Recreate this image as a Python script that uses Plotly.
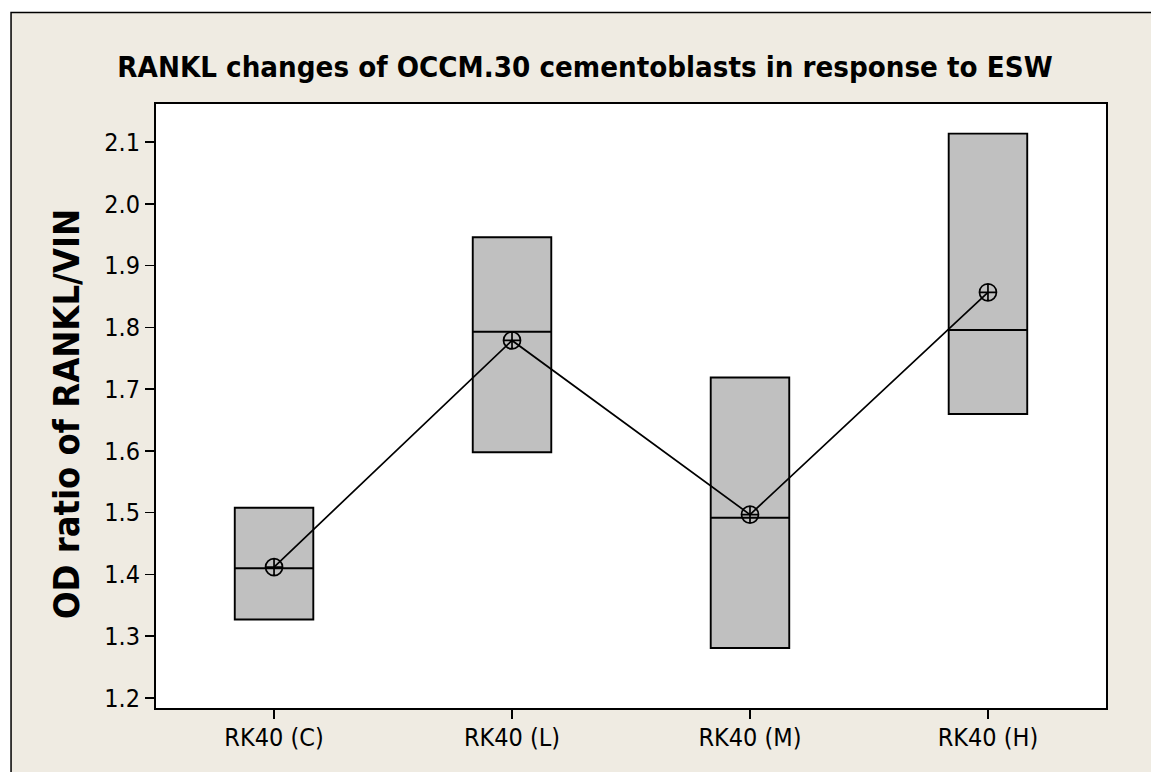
import plotly.graph_objects as go

categories = ["RK40 (C)", "RK40 (L)", "RK40 (M)", "RK40 (H)"]
q1_vals = [1.327, 1.598, 1.281, 1.660]
median_vals = [1.410, 1.793, 1.492, 1.796]
q3_vals = [1.508, 1.946, 1.719, 2.114]
mean_vals = [1.412, 1.779, 1.497, 1.857]
y_ticks = [1.2, 1.3, 1.4, 1.5, 1.6, 1.7, 1.8, 1.9, 2.0, 2.1]
y_tick_text = ["1.2", "1.3", "1.4", "1.5", "1.6", "1.7", "1.8", "1.9", "2.0", "2.1"]

FONT = "DejaVu Sans Condensed, DejaVu Sans"
W, H = 1151, 772
L, T = 155.7, 104.3
R = W - 1106
B = H - 708.3
pw, ph = W - L - R, H - T - B

def px_to_paper_x(px):
    return (px - L) / pw

def px_to_paper_y(py):
    return (H - B - py) / ph

fig = go.Figure()
fig.add_trace(go.Box(
    x=categories,
    q1=q1_vals, median=median_vals, q3=q3_vals,
    lowerfence=q1_vals, upperfence=q3_vals,
    fillcolor="#C0C0C0",
    line=dict(color="black", width=1.9),
    width=0.33, whiskerwidth=0,
    boxpoints=False, showlegend=False, hoverinfo="skip",
))
fig.add_trace(go.Scatter(
    x=categories, y=mean_vals, mode="lines+markers",
    line=dict(color="black", width=1.7),
    marker=dict(symbol="circle-cross-open", size=17, color="black",
                line=dict(color="black", width=1.7)),
    showlegend=False, hoverinfo="skip",
))

fig.add_shape(type="rect", xref="paper", yref="paper", layer="below",
              x0=px_to_paper_x(10.7), x1=1.3, y0=-0.3, y1=px_to_paper_y(12.7),
              fillcolor="#EFEBE2", line=dict(color="black", width=1.5))
fig.add_shape(type="rect", xref="paper", yref="paper", layer="below",
              x0=0, x1=1, y0=0, y1=1,
              fillcolor="white", line=dict(width=0))

fig.add_annotation(text="<b>OD ratio of RANKL/VIN</b>", textangle=-90,
                   xref="paper", yref="paper",
                   x=px_to_paper_x(66), y=px_to_paper_y(414),
                   xanchor="center", yanchor="middle", showarrow=False,
                   font=dict(family=FONT, size=36, color="black"))

fig.update_layout(
    width=W, height=H,
    margin=dict(l=L, r=R, t=T, b=B, autoexpand=False),
    paper_bgcolor="white", plot_bgcolor="white",
    title=dict(text="<b>RANKL changes of OCCM.30 cementoblasts in response to ESW</b>",
               x=585 / W, xref="container", xanchor="center",
               y=1 - 67 / H, yref="container", yanchor="middle",
               font=dict(family=FONT, size=29.2, color="black")),
    font=dict(family=FONT, color="black"),
    showlegend=False,
    hovermode=False,
)
fig.update_xaxes(range=[-0.496, 3.496], showline=True, linecolor="black", linewidth=2,
                 mirror=True, ticks="outside", ticklen=9, tickwidth=1.5, tickcolor="black",
                 showgrid=False, zeroline=False, ticklabelstandoff=-3,
                 tickfont=dict(size=25, family=FONT))
fig.update_yaxes(range=[1.1838, 2.1619], tickvals=y_ticks, ticktext=y_tick_text,
                 showline=True, linecolor="black", linewidth=2,
                 mirror=True, ticks="outside", ticklen=9, tickwidth=1.5, tickcolor="black",
                 showgrid=False, zeroline=False, tickfont=dict(size=25, family=FONT))

post = (
    "var s=document.createElement('style');"
    "s.textContent='html,body{margin:0;padding:0;overflow:hidden;scrollbar-width:none;}"
    "::-webkit-scrollbar{display:none;width:0;height:0;}';"
    "document.head.appendChild(s);"
)
fig.write_html("out.html",
               config={"displayModeBar": False, "staticPlot": True},
               post_script=post)
